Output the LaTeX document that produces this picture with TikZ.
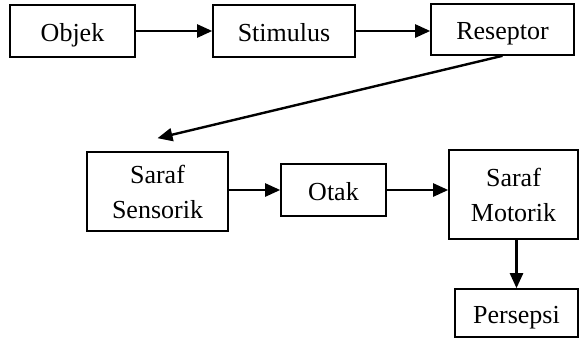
\documentclass[tikz,border=0pt]{standalone}
\usepackage{fontspec}
\setmainfont{Liberation Serif}
\usetikzlibrary{positioning,arrows.meta}

\begin{document}
\begin{tikzpicture}[x=1pt, y=-1pt, >={Triangle[length=15pt,width=13pt]},
  font=\fontsize{26}{35}\selectfont,
  box/.style={draw, line width=1.6pt, inner sep=0pt, align=center},
  oneline/.style={text height=20pt, text depth=0pt},
  flow/.style={->, line width=2.4pt}]
  \useasboundingbox (0,0) rectangle (581,340);
  % top row
  \node[box, oneline, minimum width=125pt, minimum height=52pt] (objek) at (72.5,31) {Objek};
  \node[box, oneline, minimum width=142pt, minimum height=52pt] (stim)  at (284,31)  {Stimulus};
  \node[box, oneline, minimum width=143pt, minimum height=51pt] (resep) at (502.5,29.5) {Reseptor};
  % middle row
  \node[box, text depth=0pt, minimum width=141pt, minimum height=79pt] (sens) at (157.5,191.5) {Saraf\\Sensorik};
  \node[box, oneline, minimum width=105pt, minimum height=52pt] (otak) at (333.5,190) {Otak};
  \node[box, minimum width=129pt, minimum height=89pt] (mot)  at (513.5,194.5) {Saraf\\Motorik};
  % bottom
  \node[box, oneline, minimum width=123pt, minimum height=48pt] (pers) at (516.5,313) {Persepsi};
  \coordinate[above=13pt of sens.north] (sensin);

  \draw[flow] (objek) -- (stim);
  \draw[flow] (stim.east) -- (stim.east -| resep.west);
  \draw[flow] (resep.south) -- (sensin);
  \draw[flow] (sens.east |- otak.west) -- (otak.west);
  \draw[flow] (otak.east) -- (otak.east -| mot.west);
  \draw[flow] (pers.north |- mot.south) -- (pers.north);
\end{tikzpicture}
\end{document}
